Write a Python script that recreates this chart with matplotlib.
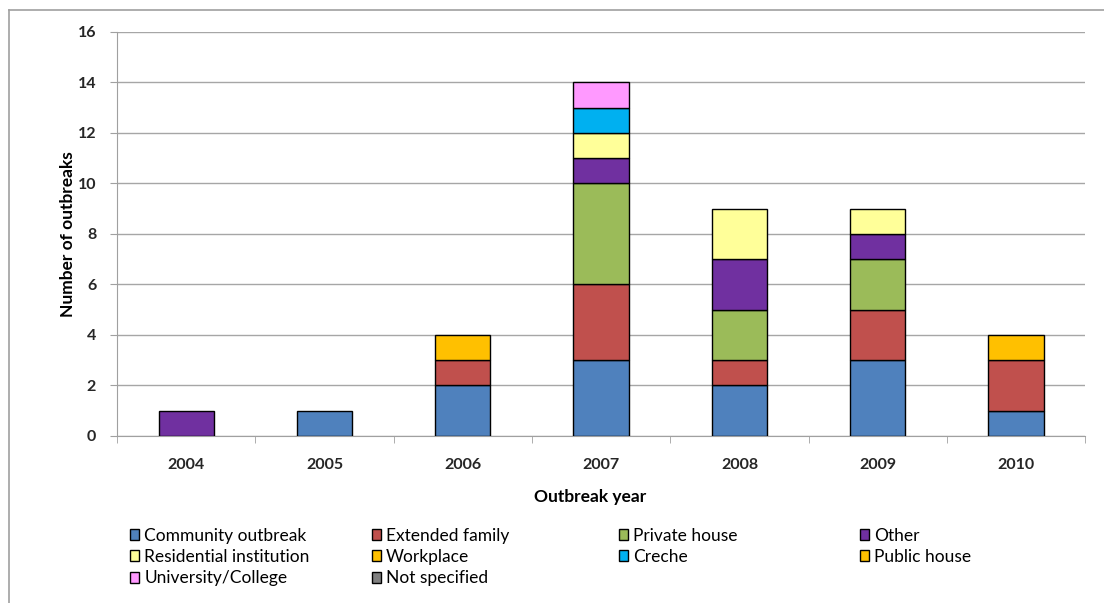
import matplotlib.pyplot as plt
from matplotlib.lines import Line2D
from matplotlib.patches import Patch
import numpy as np

plt.rcParams["font.family"] = ["Lato", "DejaVu Sans"]

years = ["2004", "2005", "2006", "2007", "2008", "2009", "2010"]

community = [0, 1, 2, 3, 2, 3, 1]
extended_family = [0, 0, 1, 3, 1, 2, 2]
private_house = [0, 0, 0, 4, 2, 2, 0]
other = [1, 0, 0, 1, 2, 1, 0]
residential = [0, 0, 0, 1, 2, 1, 0]
workplace = [0, 0, 1, 0, 0, 0, 0]
creche = [0, 0, 0, 1, 0, 0, 0]
public_house = [0, 0, 0, 0, 0, 0, 1]
university = [0, 0, 0, 1, 0, 0, 0]
not_specified = [0, 0, 0, 0, 0, 0, 0]

series = [
    ("Community outbreak", community, "#4F81BD"),
    ("Extended family", extended_family, "#C0504D"),
    ("Private house", private_house, "#9BBB59"),
    ("Other", other, "#7030A0"),
    ("Residential institution", residential, "#FFFF99"),
    ("Workplace", workplace, "#FFC000"),
    ("Creche", creche, "#00B0F0"),
    ("Public house", public_house, "#FFC000"),
    ("University/College", university, "#FF99FF"),
    ("Not specified", not_specified, "#808080"),
]

fig = plt.figure(figsize=(11.04, 6.03), dpi=100)
ax = fig.add_axes([0.106, 0.277, 0.877, 0.670])

x = np.arange(len(years))
bottom = np.zeros(len(years))
for label, vals, color in series:
    vals = np.array(vals, dtype=float)
    nz = vals > 0  # skip empty segments so no stray outlines are drawn
    if nz.any():
        ax.bar(x[nz], vals[nz], 0.4, bottom=bottom[nz], color=color,
               edgecolor="black", linewidth=1.0, zorder=3)
    bottom += vals

ax.set_ylim(0, 16)
ax.set_yticks(range(0, 17, 2))
ax.set_xlim(-0.5, len(years) - 0.5)
ax.set_xticks(x)
ax.set_xticklabels(years)
ax.set_xticks(np.arange(-0.5, len(years)), minor=True)
ax.tick_params(axis="x", which="major", length=0, pad=16)
ax.tick_params(axis="x", which="minor", length=5, color="#A0A0A0", direction="out")
ax.tick_params(axis="y", length=5, color="#A0A0A0", direction="out", pad=10)
for lab in ax.get_xticklabels() + ax.get_yticklabels():
    lab.set_fontsize(11.5)
    lab.set_fontweight("bold")
    lab.set_color("#262626")

ax.grid(axis="y", color="#A6A6A6", linewidth=1.0, zorder=0)
ax.set_axisbelow(True)
for side in ("top", "right"):
    ax.spines[side].set_visible(False)
for side in ("left", "bottom"):
    ax.spines[side].set_color("#A0A0A0")

ax.set_ylabel("Number of outbreaks", fontsize=12.5, fontweight="bold", labelpad=1)
ax.set_xlabel("Outbreak year", fontsize=12.5, fontweight="bold", labelpad=12,
              x=0.489)

# legend laid out as four separate columns
columns = [[0, 4, 8], [1, 5, 9], [2, 6], [3, 7]]
col_x = [0.118, 0.337, 0.561, 0.779]
for cx, idx in zip(col_x, columns):
    handles = [Patch(facecolor=series[i][2], edgecolor="black", linewidth=1.0)
               for i in idx]
    labels = [series[i][0] for i in idx]
    fig.legend(handles, labels, loc="upper left", bbox_to_anchor=(cx, 0.125),
               frameon=False, fontsize=12.5, handlelength=0.5, handleheight=0.6,
               handletextpad=0.3, labelspacing=0.31, borderaxespad=0,
               borderpad=0)

# outer chart frame
fig.add_artist(Line2D([0.008, 1.0], [0.983, 0.983], color="#A0A0A0", linewidth=1.2))
fig.add_artist(Line2D([0.008, 0.008], [0.0, 0.983], color="#A0A0A0", linewidth=1.2))

fig.savefig("out.png", dpi=100)
